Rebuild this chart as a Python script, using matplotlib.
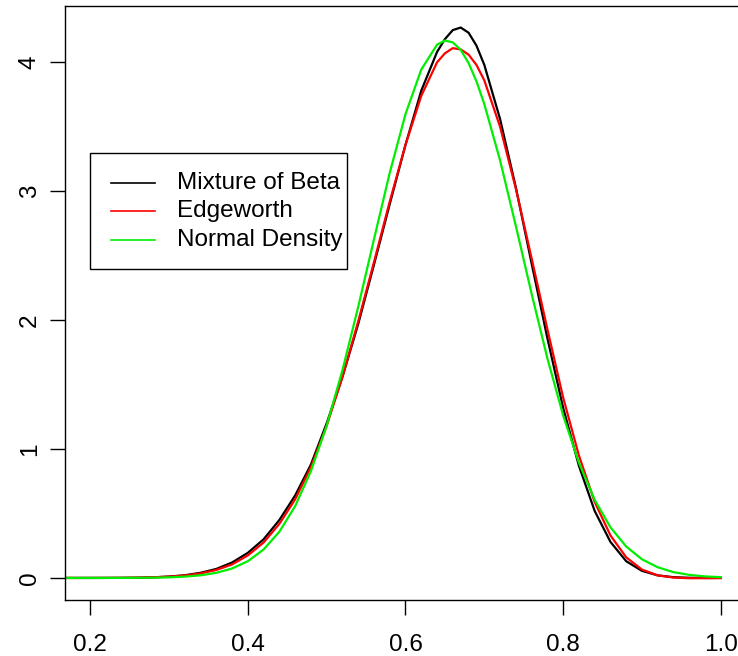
import numpy as np
import matplotlib.pyplot as plt
from matplotlib.patches import Rectangle
from matplotlib.lines import Line2D

plt.rcParams['font.family'] = ['Liberation Sans', 'DejaVu Sans']

# x grid
x = [0.16, 0.20, 0.22, 0.24, 0.26, 0.28, 0.30, 0.32, 0.34, 0.36, 0.38, 0.40,
     0.42, 0.44, 0.46, 0.48, 0.50, 0.52, 0.54, 0.56, 0.58, 0.60, 0.62, 0.64,
     0.65, 0.66, 0.67, 0.68, 0.69, 0.70, 0.72, 0.74, 0.76, 0.78, 0.80, 0.82,
     0.84, 0.86, 0.88, 0.90, 0.92, 0.94, 0.96, 0.98, 1.00]

beta_mix = [0.0, 0.0001, 0.0003, 0.0008, 0.002, 0.005, 0.011, 0.021, 0.04, 0.07,
            0.12, 0.195, 0.30, 0.45, 0.64, 0.88, 1.20, 1.56, 1.97, 2.43, 2.90,
            3.36, 3.78, 4.08, 4.18, 4.25, 4.27, 4.23, 4.13, 3.98, 3.56, 3.03,
            2.44, 1.86, 1.32, 0.87, 0.52, 0.28, 0.13, 0.055, 0.02, 0.006, 0.0015,
            0.0002, 0.0]

edgeworth = [0.0, 0.0002, 0.0005, 0.001, 0.0025, 0.005, 0.010, 0.019, 0.035, 0.062,
             0.105, 0.175, 0.275, 0.42, 0.61, 0.86, 1.18, 1.56, 1.99, 2.45, 2.92,
             3.36, 3.74, 4.00, 4.07, 4.11, 4.10, 4.06, 3.98, 3.86, 3.50, 3.02,
             2.48, 1.93, 1.40, 0.95, 0.59, 0.33, 0.16, 0.065, 0.02, 0.003, -0.002,
             -0.002, -0.001]

normal = [0.0, 0.0001, 0.0002, 0.0004, 0.001, 0.0022, 0.0048, 0.0102, 0.0205, 0.0397,
          0.0734, 0.130, 0.221, 0.359, 0.557, 0.829, 1.182, 1.611, 2.103, 2.627, 3.143,
          3.598, 3.944, 4.137, 4.169, 4.155, 4.097, 3.995, 3.853, 3.676, 3.239, 2.731,
          2.205, 1.704, 1.261, 0.894, 0.606, 0.393, 0.244, 0.145, 0.083, 0.045, 0.024,
          0.012, 0.006]

labels = ['Mixture of Beta', 'Edgeworth', 'Normal Density']
colors = ['black', 'red', '#00ee00']

W, H = 738, 656
fig = plt.figure(figsize=(W / 100, H / 100), dpi=100)
ax = fig.add_axes([65 / W, 56 / H, (746 - 65) / W, (600 - 6) / H])

for ys, lab, c in zip([beta_mix, edgeworth, normal], labels, colors):
    ax.plot(x, ys, color=c, lw=1.6, label=lab)

ax.set_xlim(0.168, 1.032)
ax.set_ylim(-0.171, 4.437)
ax.set_xticks([0.2, 0.4, 0.6, 0.8, 1.0])
ax.set_xticklabels(['0.2', '0.4', '0.6', '0.8', '1.0'])
ax.set_yticks([0, 1, 2, 3, 4])
ax.tick_params(axis='both', labelsize=17.5, length=10.5, width=1, direction='out')
ax.tick_params(axis='x', pad=14)
ax.tick_params(axis='y', pad=7)
for t in ax.get_yticklabels():
    t.set_rotation(90)
    t.set_va('center')
for s in ax.spines.values():
    s.set_linewidth(1)

# R-style legend box, placed in figure pixels (y measured from the top)
def fy(py):
    return 1 - py / H

fig.patches.append(Rectangle((90 / W, fy(269)), (347 - 90) / W, (269 - 153) / H,
                             transform=fig.transFigure, fill=False,
                             edgecolor='black', lw=1))
for i, (lab, c) in enumerate(zip(labels, colors)):
    yy = fy(183 + 28.3 * i)
    fig.lines.append(Line2D([111 / W, 155 / W], [yy, yy], transform=fig.transFigure,
                            color=c, lw=1.2))
    fig.text(177 / W, yy, lab, fontsize=17.5, va='center', ha='left')

fig.savefig('out.png', dpi=100)
